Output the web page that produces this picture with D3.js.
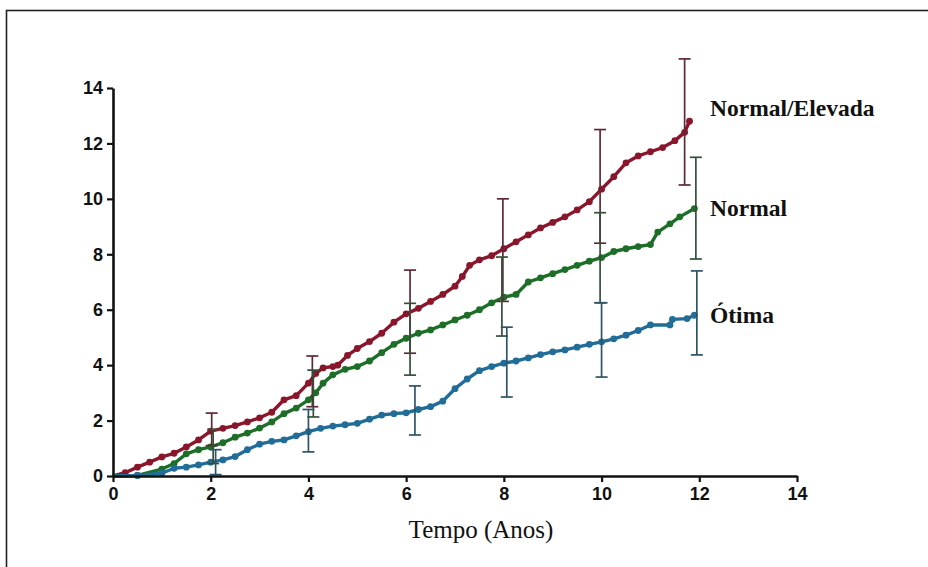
<!DOCTYPE html>
<html>
<head>
<meta charset="utf-8">
<script src="https://cdn.jsdelivr.net/npm/d3@7"></script>
<style>
  body { margin: 0; background: #fff; }
  svg { display: block; }
</style>
</head>
<body>
<div id="chart"></div>
<script>
// cumulative incidence curves, [tempo, valor]
const normalElevada = [
  [0, 0], [0.25, 0.12], [0.5, 0.32], [0.75, 0.5], [1, 0.69], [1.25, 0.82], [1.5, 1.05], [1.75, 1.3],
  [2, 1.62], [2.25, 1.72], [2.5, 1.82], [2.75, 1.95], [3, 2.1], [3.25, 2.3], [3.5, 2.75], [3.75, 2.9],
  [4, 3.35], [4.15, 3.7], [4.3, 3.9], [4.5, 3.95], [4.6, 4.0], [4.8, 4.35], [5, 4.6], [5.25, 4.85],
  [5.5, 5.15], [5.75, 5.55], [6, 5.85], [6.25, 6.05], [6.5, 6.3], [6.75, 6.55], [7, 6.85], [7.15, 7.2],
  [7.3, 7.6], [7.5, 7.8], [7.75, 7.95], [8, 8.2], [8.25, 8.45], [8.5, 8.7], [8.75, 8.95], [9, 9.15],
  [9.25, 9.35], [9.5, 9.6], [9.75, 9.9], [10, 10.35], [10.25, 10.8], [10.5, 11.3], [10.75, 11.55],
  [11, 11.7], [11.25, 11.85], [11.5, 12.1], [11.7, 12.4], [11.8, 12.8]
];
const normal = [
  [0, 0], [0.5, 0.02], [1, 0.25], [1.25, 0.45], [1.5, 0.8], [1.75, 0.95], [2, 1.05], [2.25, 1.2],
  [2.5, 1.4], [2.75, 1.55], [3, 1.73], [3.25, 1.95], [3.5, 2.25], [3.75, 2.45], [4, 2.75], [4.15, 3.0],
  [4.3, 3.35], [4.5, 3.65], [4.75, 3.85], [5, 3.95], [5.25, 4.15], [5.5, 4.45], [5.75, 4.75], [6, 4.97],
  [6.25, 5.15], [6.5, 5.27], [6.75, 5.45], [7, 5.63], [7.25, 5.8], [7.5, 6.0], [7.75, 6.25], [8, 6.45],
  [8.25, 6.55], [8.5, 7.0], [8.75, 7.15], [9, 7.3], [9.25, 7.45], [9.5, 7.6], [9.75, 7.75], [10, 7.88],
  [10.25, 8.1], [10.5, 8.2], [10.75, 8.28], [11, 8.35], [11.15, 8.8], [11.4, 9.1], [11.6, 9.35], [11.9, 9.65]
];
const otima = [
  [0, 0], [0.5, 0.02], [1, 0.1], [1.25, 0.28], [1.5, 0.32], [1.75, 0.4], [2, 0.5], [2.25, 0.58],
  [2.5, 0.7], [2.75, 0.95], [3, 1.15], [3.25, 1.25], [3.5, 1.3], [3.75, 1.45], [4, 1.6], [4.25, 1.72],
  [4.5, 1.8], [4.75, 1.85], [5, 1.9], [5.25, 2.05], [5.5, 2.2], [5.75, 2.25], [6, 2.28], [6.25, 2.4],
  [6.5, 2.5], [6.75, 2.7], [7, 3.15], [7.25, 3.5], [7.5, 3.8], [7.75, 3.95], [8, 4.07], [8.25, 4.15],
  [8.5, 4.26], [8.75, 4.38], [9, 4.48], [9.25, 4.55], [9.5, 4.65], [9.75, 4.75], [10, 4.84], [10.25, 4.95],
  [10.5, 5.08], [10.75, 5.25], [11, 5.45], [11.4, 5.45], [11.45, 5.65], [11.75, 5.68], [11.9, 5.8]
];

// error bars: [tempo, inferior, superior]
const errNormalElevada = [[2.02, 1.1, 2.27], [4.08, 2.5, 4.33], [6.08, 4.43, 7.43], [7.98, 6.3, 10.0], [9.97, 8.4, 12.5], [11.7, 10.5, 15.05]];
const errNormal = [[2.05, 0.45, 1.68], [4.1, 2.13, 3.82], [6.08, 3.64, 6.23], [7.96, 5.05, 7.9], [9.97, 6.25, 9.5], [11.93, 7.83, 11.5]];
const errOtima = [[2.1, 0.05, 0.95], [4.0, 0.87, 2.4], [6.18, 1.48, 3.25], [8.06, 2.85, 5.37], [10.0, 3.57, 6.25], [11.95, 4.37, 7.4]];

const xTicks = [0, 2, 4, 6, 8, 10, 12, 14];
const yTicks = [0, 2, 4, 6, 8, 10, 12, 14];
const seriesNames = ['Normal/Elevada', 'Normal', 'Ótima'];

const width = 928, height = 567;
const margin = { top: 88, right: 131, bottom: 91, left: 113 };

const svg = d3.select('#chart').append('svg')
  .attr('width', width)
  .attr('height', height);

// picture frame
svg.append('rect')
  .attr('x', 6.5).attr('y', 10.5)
  .attr('width', 1000).attr('height', 1000)
  .attr('fill', 'none')
  .attr('stroke', '#222')
  .attr('stroke-width', 1.6);

const x = d3.scaleLinear().domain([0, 14]).range([margin.left, width - margin.right]);
const y = d3.scaleLinear().domain([0, 14]).range([height - margin.bottom, margin.top]);

const series = [
  { name: seriesNames[0], data: normalElevada, err: errNormalElevada, color: '#8a162c', errColor: '#5e2a36', labelY: 12.8, labelDy: -5 },
  { name: seriesNames[1], data: normal, err: errNormal, color: '#1d6e27', errColor: '#34503a', labelY: 9.65, labelDy: 7 },
  { name: seriesNames[2], data: otima, err: errOtima, color: '#216d98', errColor: '#2e5468', labelY: 5.8, labelDy: 8 }
];

const line = d3.line().x(d => x(d[0])).y(d => y(d[1]));

series.forEach(s => {
  const g = svg.append('g');
  g.append('path')
    .datum(s.data)
    .attr('fill', 'none')
    .attr('stroke', s.color)
    .attr('stroke-width', 3.4)
    .attr('stroke-linejoin', 'round')
    .attr('d', line);
  g.selectAll('circle')
    .data(s.data.slice(1))
    .enter().append('circle')
    .attr('cx', d => x(d[0]))
    .attr('cy', d => y(d[1]))
    .attr('r', 3.4)
    .attr('fill', s.color);
});

// error bars on top
series.forEach(s => {
  const g = svg.append('g')
    .attr('stroke', s.errColor)
    .attr('stroke-width', 1.7);
  g.selectAll('.bar')
    .data(s.err)
    .enter().append('line')
    .attr('x1', d => x(d[0])).attr('x2', d => x(d[0]))
    .attr('y1', d => y(d[1])).attr('y2', d => y(d[2]));
  g.selectAll('.capHi')
    .data(s.err)
    .enter().append('line')
    .attr('x1', d => x(d[0]) - 6).attr('x2', d => x(d[0]) + 6)
    .attr('y1', d => y(d[2])).attr('y2', d => y(d[2]));
  g.selectAll('.capLo')
    .data(s.err)
    .enter().append('line')
    .attr('x1', d => x(d[0]) - 6).attr('x2', d => x(d[0]) + 6)
    .attr('y1', d => y(d[1])).attr('y2', d => y(d[1]));
});

// axes
const xAxis = svg.append('g')
  .attr('transform', 'translate(0,' + y(0) + ')')
  .call(d3.axisBottom(x).tickValues(xTicks).tickSize(6).tickSizeOuter(0).tickPadding(5));
const yAxis = svg.append('g')
  .attr('transform', 'translate(' + x(0) + ',0)')
  .call(d3.axisLeft(y).tickValues(yTicks).tickSize(6).tickSizeOuter(0).tickPadding(4));

[xAxis, yAxis].forEach(a => {
  a.select('.domain').attr('stroke', '#111').attr('stroke-width', 2.6);
  a.selectAll('.tick line').attr('stroke', '#111').attr('stroke-width', 2.2);
  a.selectAll('.tick text')
    .attr('fill', '#111')
    .style('font-family', '"Liberation Sans Narrow", "Liberation Sans", Arial, sans-serif')
    .style('font-weight', 'bold')
    .style('font-size', '18px');
});

svg.append('text')
  .attr('x', 481)
  .attr('y', 538)
  .attr('text-anchor', 'middle')
  .style('font-family', '"Liberation Serif", "DejaVu Serif", serif')
  .style('font-size', '25px')
  .attr('fill', '#111')
  .text('Tempo (Anos)');

// series labels
series.forEach(s => {
  svg.append('text')
    .attr('x', 710)
    .attr('y', y(s.labelY) + s.labelDy)
    .style('font-family', '"Liberation Serif", "DejaVu Serif", serif')
    .style('font-size', '23.5px')
    .style('font-weight', 'bold')
    .attr('fill', '#111')
    .text(s.name);
});
</script>
</body>
</html>
